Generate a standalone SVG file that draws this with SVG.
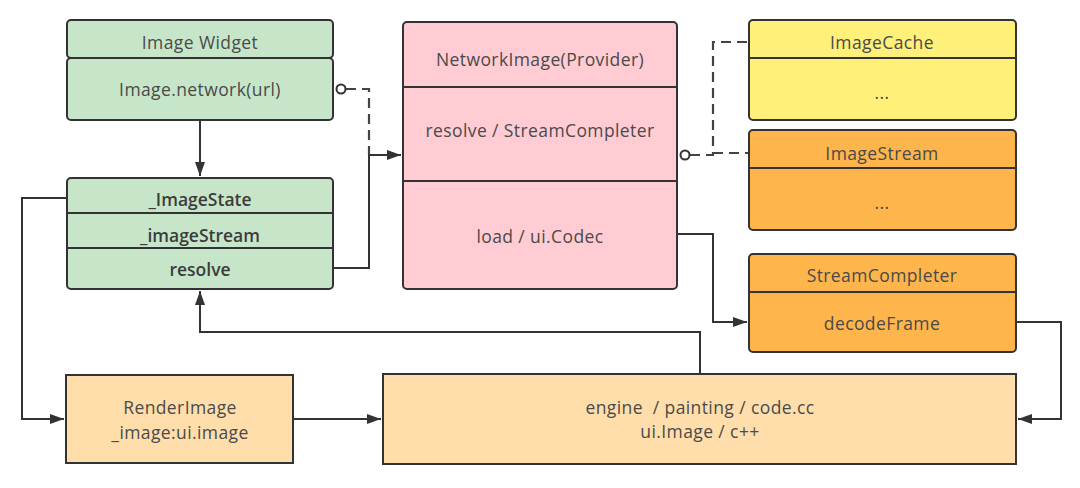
<svg xmlns="http://www.w3.org/2000/svg" width="1080" height="488" viewBox="0 0 1080 488">
<defs>
<marker id="arr" viewBox="0 0 14 10" refX="14" refY="5" markerWidth="14" markerHeight="10" markerUnits="userSpaceOnUse" orient="auto">
<path d="M0,0 L14,5 L0,10 Z" fill="#333"/>
</marker>
<style>
.b{stroke:#333;stroke-width:2}
.g{fill:#c7e6c9}
.p{fill:#ffccd3}
.y{fill:#fff07a}
.o{fill:#feb54b}
.l{fill:#ffdeab}
text{font-family:"Open Sans","Liberation Sans",sans-serif;font-size:17.5px;letter-spacing:0.4px;fill:#4a4a4a;text-anchor:middle;dominant-baseline:central}
.w{font-weight:600;fill:#3c3c3c;letter-spacing:0}
.c{fill:none;stroke:#333;stroke-width:2}
.d{fill:none;stroke:#444;stroke-width:2.2;stroke-dasharray:10,6}
</style>
</defs>
<rect width="1080" height="488" fill="#fff"/>
<g id="connectors">
<path class="c" d="M200,120 V176" marker-end="url(#arr)"/>
<path class="d" d="M346,89 H369 V155"/>
<path class="c" d="M333,268 H369 V155 H401" marker-end="url(#arr)"/>
<path class="d" d="M690,155 H713 V42 H749"/>
<path class="d" d="M713,153 H749"/>
<path class="c" d="M677,234 H713 V322 H747" marker-end="url(#arr)"/>
<path class="c" d="M1016,322 H1061 V419 H1018" marker-end="url(#arr)"/>
<path class="c" d="M67,198 H22 V419 H64" marker-end="url(#arr)"/>
<path class="c" d="M293,419 H381" marker-end="url(#arr)"/>
<path class="c" d="M700,374 V332 H200 V291" marker-end="url(#arr)"/>
<circle cx="341" cy="89" r="4.5" fill="#fff" stroke="#333" stroke-width="2"/>
<circle cx="685" cy="155" r="4.5" fill="#fff" stroke="#333" stroke-width="2"/>
</g>
<g id="image-widget">
<rect class="b g" x="67" y="20" width="266" height="38" rx="4"/>
<rect class="b g" x="67" y="58" width="266" height="62" rx="4"/>
<text x="200" y="42">Image Widget</text>
<text x="200" y="89">Image.network(url)</text>
</g>
<g id="image-state">
<rect class="b g" x="67" y="178" width="266" height="111" rx="4"/>
<line class="b" x1="67" y1="213" x2="333" y2="213"/>
<line class="b" x1="67" y1="248" x2="333" y2="248"/>
<text class="w" x="200" y="199">_ImageState</text>
<text class="w" x="200" y="235">_imageStream</text>
<text class="w" x="200" y="269">resolve</text>
</g>
<g id="network-image">
<rect class="b p" x="403" y="22" width="274" height="267" rx="4"/>
<line class="b" x1="403" y1="87" x2="677" y2="87"/>
<line class="b" x1="403" y1="181" x2="677" y2="181"/>
<text x="540" y="59">NetworkImage(Provider)</text>
<text x="540" y="130">resolve / StreamCompleter</text>
<text x="540" y="236">load / ui.Codec</text>
</g>
<g id="image-cache">
<rect class="b y" x="749" y="20" width="267" height="100" rx="4"/>
<line class="b" x1="749" y1="58" x2="1016" y2="58"/>
<text x="882" y="42">ImageCache</text>
<text x="882" y="92">...</text>
</g>
<g id="image-stream">
<rect class="b o" x="749" y="130" width="267" height="100" rx="4"/>
<line class="b" x1="749" y1="168" x2="1016" y2="168"/>
<text x="882" y="153">ImageStream</text>
<text x="882" y="202">...</text>
</g>
<g id="stream-completer">
<rect class="b o" x="749" y="254" width="267" height="98" rx="4"/>
<line class="b" x1="749" y1="292" x2="1016" y2="292"/>
<text x="882" y="275">StreamCompleter</text>
<text x="882" y="323">decodeFrame</text>
</g>
<g id="render-image">
<rect class="b l" x="66" y="375" width="227" height="88"/>
<text x="180" y="407">RenderImage</text>
<text x="180" y="432">_image:ui.image</text>
</g>
<g id="engine">
<rect class="b l" x="383" y="374" width="633" height="90"/>
<text x="700" y="407" xml:space="preserve">engine  / painting / code.cc</text>
<text x="700" y="431">ui.Image / c++</text>
</g>
</svg>
